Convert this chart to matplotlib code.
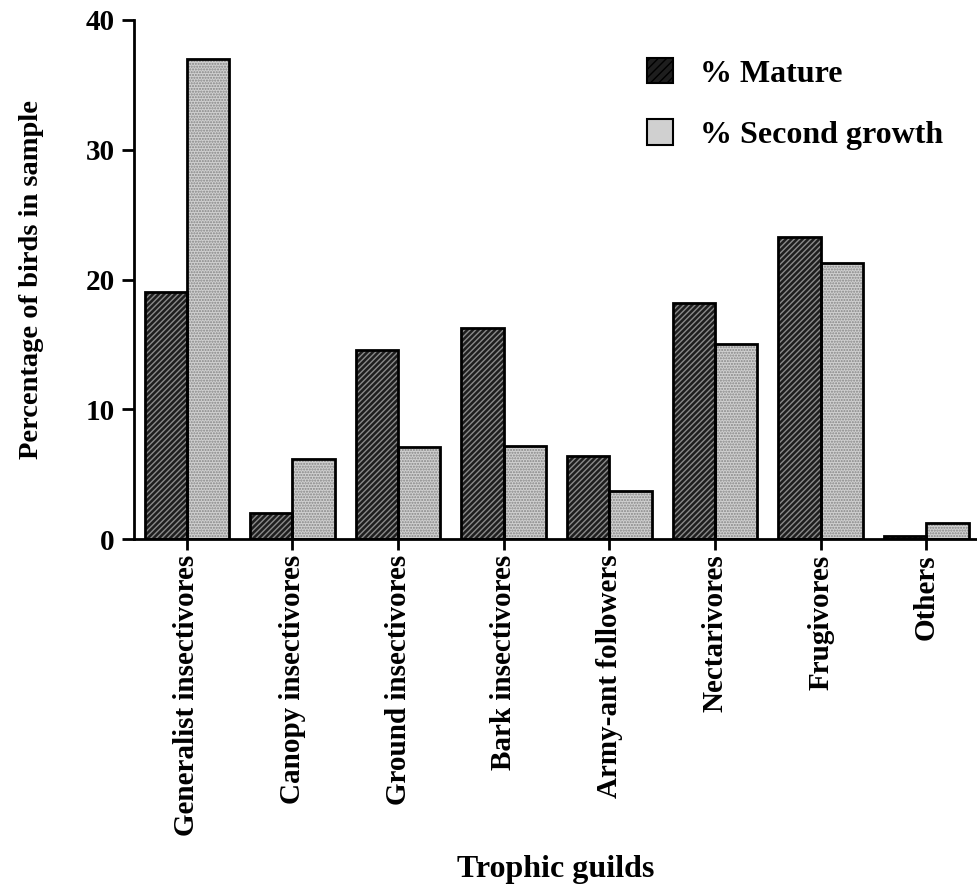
import numpy as np
import matplotlib
matplotlib.use('Agg')
import matplotlib.pyplot as plt
from matplotlib.patches import Patch

guilds = ['Generalist insectivores', 'Canopy insectivores', 'Ground insectivores',
          'Bark insectivores', 'Army-ant followers', 'Nectarivores', 'Frugivores', 'Others']
mature = [19.0, 2.0, 14.6, 16.3, 6.4, 18.2, 23.3, 0.2]
second = [37.0, 6.2, 7.1, 7.2, 3.7, 15.0, 21.3, 1.2]

plt.rcParams['font.family'] = ['Liberation Serif', 'DejaVu Serif']
plt.rcParams['font.weight'] = 'bold'
plt.rcParams['hatch.linewidth'] = 1.0

fig = plt.figure(figsize=(9.77, 8.9), dpi=100)
ax = fig.add_axes([134 / 977, 1 - 539 / 890, (977 - 134) / 977, (539 - 20) / 890])

x = np.arange(len(guilds))
w = 0.4
mat_face, mat_hatch = '#1e1e1e', '#8a8a8a'
sec_face, sec_hatch = '#d0d0d0', '#858585'

# base fill
ax.bar(x - w / 2, mature, w, color=mat_face, linewidth=0)
ax.bar(x + w / 2, second, w, color=sec_face, linewidth=0)
# hatch overlays
ax.bar(x - w / 2, mature, w, fill=False, hatch='//////', edgecolor=mat_hatch, linewidth=0)
ax.bar(x + w / 2, second, w, fill=False, hatch='......', edgecolor=sec_hatch, linewidth=0)
# outlines on top
ax.bar(x - w / 2, mature, w, fill=False, edgecolor='black', linewidth=2)
ax.bar(x + w / 2, second, w, fill=False, edgecolor='black', linewidth=2)

ax.set_xlim(-0.50, len(guilds) - 1 + 0.48)
ax.set_ylim(0, 40)
ax.set_yticks([0, 10, 20, 30, 40])
ax.set_xticks(x)
ax.set_xticklabels(guilds, rotation=90, fontsize=21, fontweight='bold')
ax.tick_params(axis='y', labelsize=21, width=2, length=9, pad=5)
ax.tick_params(axis='x', width=2, length=8, pad=3)
for lab in ax.get_yticklabels():
    lab.set_fontweight('bold')

ax.spines['top'].set_visible(False)
ax.spines['right'].set_visible(False)
ax.spines['left'].set_linewidth(2)
ax.spines['bottom'].set_linewidth(2)

ax.set_ylabel('Percentage of birds in sample', fontsize=20.5, fontweight='bold', labelpad=30)
ax.set_xlabel('Trophic guilds', fontsize=23, fontweight='bold', labelpad=14)

handles = [Patch(facecolor=mat_face, edgecolor='black', hatch='////', linewidth=1.5),
           Patch(facecolor=sec_face, edgecolor='black', linewidth=1.5)]
fig.legend(handles, ['% Mature', '% Second growth'], loc='upper left',
           bbox_to_anchor=(647 / 977, 1 - 58 / 890), frameon=False,
           handlelength=0.8, handleheight=0.85, handletextpad=0.85, labelspacing=0.95,
           borderpad=0, borderaxespad=0,
           prop={'weight': 'bold', 'size': 23})

fig.savefig('out.png', dpi=100)
